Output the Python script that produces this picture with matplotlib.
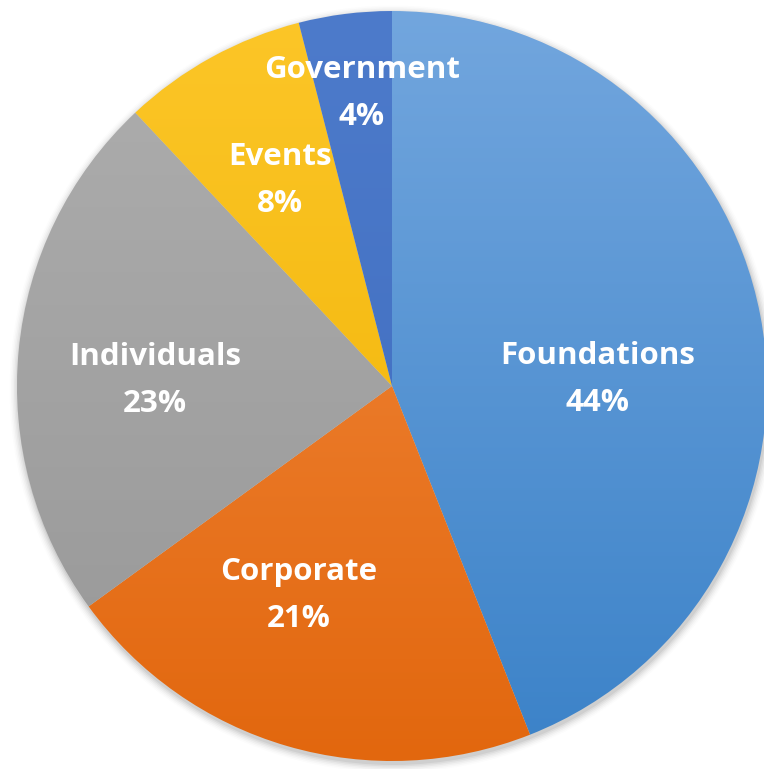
import numpy as np
import matplotlib
matplotlib.use("Agg")
import matplotlib.pyplot as plt
from matplotlib.colors import LinearSegmentedColormap
from matplotlib.patches import Circle

categories = ["Foundations", "Corporate", "Individuals", "Events", "Government"]
values = [44, 21, 23, 8, 4]
pct_labels = ["44%", "21%", "23%", "8%", "4%"]

# gradient colours (top, bottom) per slice
grad_colors = [
    ("#72a6de", "#3b82c8"),
    ("#f38c42", "#e2670e"),
    ("#aeaeae", "#979797"),
    ("#fcc628", "#efb100"),
    ("#4d7bcb", "#3d6abd"),
]

W, H = 764, 769
fig = plt.figure(figsize=(W / 100, H / 100), dpi=100)
ax = fig.add_axes([0, 0, 1, 1])

cx, cy = 392, H - 386
R = 375

# soft shadow
for i, a in enumerate(np.linspace(0.05, 0.012, 6)):
    ax.add_patch(Circle((cx + 1, cy - 3), R + 1 + i * 1.5, color="#000000", alpha=a, lw=0, zorder=0))

wedges, _ = ax.pie(values, startangle=90, counterclock=False, center=(cx, cy),
                   radius=R, frame=True,
                   wedgeprops=dict(linewidth=0, edgecolor="none"))

grad = np.linspace(1, 0, 256).reshape(-1, 1)
for w, (ctop, cbot) in zip(wedges, grad_colors):
    w.set_facecolor("none")
    cmap = LinearSegmentedColormap.from_list("g", [cbot, ctop])
    im = ax.imshow(grad, cmap=cmap, extent=(cx - R, cx + R, cy - R, cy + R),
                   origin="upper", aspect="auto", zorder=1, interpolation="bilinear")
    im.set_clip_path(w)

ax.set_xlim(0, W)
ax.set_ylim(0, H)
ax.set_aspect("equal")
ax.axis("off")

# label layout (pixel positions of name line centre)
label_pos = [(598, 356), (299, 572), (155, 357), (280, 157), (362, 70)]
fs = 22.5
for (x, y), name, pct in zip(label_pos, categories, pct_labels):
    ax.text(x, H - y, name, ha="center", va="center", color="white",
            fontsize=fs, fontweight="bold", family="Open Sans", zorder=5)
    ax.text(x, H - y - 47, pct, ha="center", va="center", color="white",
            fontsize=fs, fontweight="bold", family="Open Sans", zorder=5)

fig.savefig("out.png", dpi=100, facecolor="white")
